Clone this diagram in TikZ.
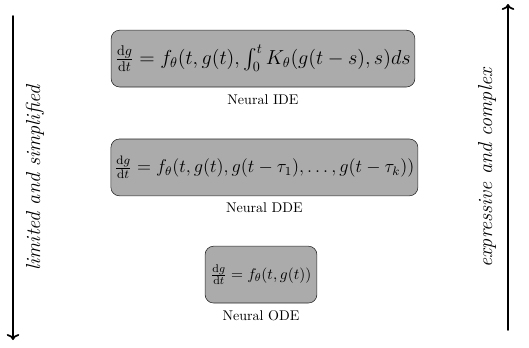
\documentclass[tikz,border=0pt]{standalone}
\usepackage{amsmath,amssymb}
\usepackage{graphicx}
\usepackage{tikz}
\usetikzlibrary{arrows.meta, positioning}

\begin{document}
\begin{tikzpicture}[line cap=round, line join=round,
		formbox/.style={draw=black!85, fill=black!33, rounded corners=6pt, minimum height=1.42cm, inner xsep=3pt},
		side/.style={rotate=90, font=\fontsize{14.4}{17}\selectfont\itshape}]
	\useasboundingbox (0,0) rectangle (13.225,8.675);
	% the three models
	\node[formbox, font=\fontsize{14.4}{17}\selectfont] (ide) at (6.575,7.21) {$\frac{\mathrm{d}g}{\mathrm{d}t} = f_\theta(t, g(t), \int_0^t K_\theta(g(t-s),s)ds$};
	\node[below=0.5mm of ide] (idename) {Neural IDE};
	\node[formbox, font=\fontsize{12}{14}\selectfont, inner xsep=2.5pt] (dde) at (6.61,4.49) {\scalebox{1.09}{$\frac{\mathrm{d}g}{\mathrm{d}t} = f_\theta(t, g(t), g(t-\tau_1), \ldots, g(t-\tau_k))$}};
	\node[below=0.5mm of dde] (ddename) {Neural DDE};
	\node[formbox, font=\fontsize{10.95}{13}\selectfont, inner xsep=4pt] (ode) at (6.525,1.81) {$\frac{\mathrm{d}g}{\mathrm{d}t} = f_\theta(t, g(t))$};
	\node[below=0.5mm of ode] (odename) {Neural ODE};
	% the two arrows
	\coordinate (ltop) at (0.325,8.275);
	\coordinate (lbot) at (0.325,0.175);
	\draw[->, very thick] (ltop) -- (lbot);
	\node[side] (ltext) at (0.875,4.225) {limited and simplified};
	\coordinate (rbot) at (12.7,0.425);
	\coordinate (rtop) at (12.7,8.575);
	\draw[->, very thick] (rbot) -- (rtop);
	\node[side] (rtext) at (12.175,4.475) {expressive and complex};
\end{tikzpicture}
\end{document}
